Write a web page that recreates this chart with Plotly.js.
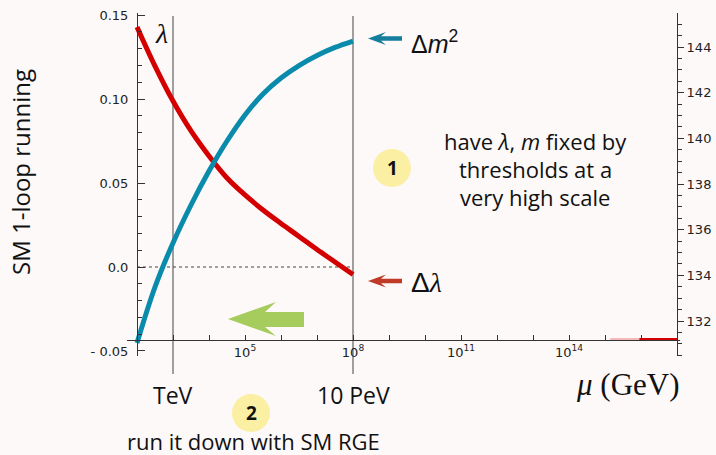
<!DOCTYPE html>
<html><head><meta charset="utf-8">
<script src="https://cdn.plot.ly/plotly-3.0.1.min.js"></script>
<style>html,body{margin:0;padding:0;background:#fdf9f8;}#chart{width:716px;height:455px;}</style>
</head><body><div id="chart"></div>
<script>
// ---- data ----
const muGrid     = [1e2, 316.2, 1e3, 3162, 1e4, 31620, 1e5, 316200, 1e6, 3.162e6, 1e7, 3.162e7, 1e8];
const lambdaVals = [0.1429, 0.1196, 0.0988, 0.0810, 0.0661, 0.0530, 0.0429, 0.0339, 0.0259, 0.0182, 0.0104, 0.0030, -0.0045];
const deltaM2Vals= [-0.0452, -0.0119, 0.0143, 0.0369, 0.0571, 0.0750, 0.0905, 0.1030, 0.1125, 0.1199, 0.1259, 0.1307, 0.1345];
const muTailFaint = [1.4e15, 9e15];
const muTailSolid = [9e15, 1e17];
const tailVals = [131.2, 131.2];
const zeroLineMu = [1e2, 1e8];
const zeroLineVals = [0, 0];
const thresholds = [1e3, 1e8];
const thresholdLabels = ['TeV', '10 PeV'];
const yTickVals = [0.15, 0.10, 0.05, 0.0, -0.05];
const yTickText = ['0.15', '0.10', '0.05', '0.0', '- 0.05'];
const yMinorVals = [-0.05,-0.04,-0.03,-0.02,-0.01,0,0.01,0.02,0.03,0.04,0.05,0.06,0.07,0.08,0.09,0.10,0.11,0.12,0.13,0.14,0.15];
const y2TickVals = [132, 134, 136, 138, 140, 142, 144];
const y2TickText = ['132', '134', '136', '138', '140', '142', '144'];
const y2MinorVals = [130.5,131,131.5,132,132.5,133,133.5,134,134.5,135,135.5,136,136.5,137,137.5,138,138.5,139,139.5,140,140.5,141,141.5,142,142.5,143,143.5,144,144.5,145];
const xTickVals = [1e2,1e3,1e4,1e5,1e6,1e7,1e8,1e9,1e10,1e11,1e12,1e13,1e14,1e15,1e16,1e17];
const xTickText = ['','','','10<sup>5</sup>','','','10<sup>8</sup>','','','10<sup>11</sup>','','','10<sup>14</sup>','','',''];

// ---- pixel -> paper helpers for decorations ----
const L = 127, R = 680, T = 13, B = 356;
const px = x => (x - L) / (R - L);
const py = y => (B - y) / (B - T);

const BG = '#fdf9f8';
const RED = '#d40000', BLUE = '#0a8bab';
const sans = '"Open Sans", sans-serif';
const serif = '"Liberation Serif", serif';

const traces = [
  {x: zeroLineMu, y: zeroLineVals, mode: 'lines', line: {color: '#444', width: 1, dash: 'dot'}, hoverinfo: 'skip'},
  {x: muGrid, y: lambdaVals, mode: 'lines', line: {color: RED, width: 5, shape: 'spline', smoothing: 1}},
  {x: muGrid, y: deltaM2Vals, mode: 'lines', line: {color: BLUE, width: 5, shape: 'spline', smoothing: 1}},
  {x: muTailFaint, y: tailVals, yaxis: 'y2', mode: 'lines', line: {color: '#f3b8b8', width: 2.5}},
  {x: muTailSolid, y: tailVals, yaxis: 'y2', mode: 'lines', line: {color: RED, width: 2.5}}
];

const shapes = [];
thresholds.forEach(t => shapes.push({type: 'line', xref: 'x', yref: 'paper', x0: t, x1: t,
  y0: py(374), y1: py(16), line: {color: '#444', width: 1}, layer: 'below'}));
// number circles
shapes.push({type: 'circle', xref: 'paper', yref: 'paper', x0: px(373), x1: px(411), y0: py(187), y1: py(149),
  fillcolor: '#fbefa4', line: {width: 0}});
shapes.push({type: 'circle', xref: 'paper', yref: 'paper', x0: px(232), x1: px(270), y0: py(432), y1: py(394),
  fillcolor: '#fbefa4', line: {width: 0}});
// arrows as paper paths
function pathOf(pts) { return 'M ' + pts.map(p => px(p[0]).toFixed(5) + ',' + py(p[1]).toFixed(5)).join(' L ') + ' Z'; }
shapes.push({type: 'path', xref: 'paper', yref: 'paper', fillcolor: '#a5cc5d', line: {width: 0},
  path: pathOf([[228,319],[276,302],[265,312],[304,312],[304,327],[265,327],[276,336]])});
function smallArrow(y, color) {
  return {type: 'path', xref: 'paper', yref: 'paper', fillcolor: color, line: {width: 0},
    path: pathOf([[368,y],[386,y-6.5],[381,y-2.3],[402,y-2.3],[402,y+2.3],[381,y+2.3],[386,y+6.5]])};
}
shapes.push(smallArrow(38.5, '#157e9c'));
shapes.push(smallArrow(281, '#c03a28'));

function ann(x, y, text, size, family, extra) {
  return Object.assign({xref: 'paper', yref: 'paper', x: px(x), y: py(y), text: text, showarrow: false,
    xanchor: 'center', yanchor: 'middle', font: {family: family || sans, size: size, color: '#111'}}, extra || {});
}
const annotations = [
  ann(20, 172, 'SM 1-loop running', 24, sans, {textangle: -90}),
  ann(161, 34, '<i>λ</i>', 28, serif),
  ann(409, 42, 'Δ<i>m</i><sup>2</sup>', 25, '"Liberation Sans", sans-serif', {xanchor: 'left'}),
  ann(409, 282, 'Δ<span style="font-family:Liberation Serif"><i>λ</i></span>', 28, '"Liberation Sans", sans-serif', {xanchor: 'left'}),
  ann(535, 141, 'have <i>λ</i>, <i>m</i> fixed by', 22),
  ann(535, 169, 'thresholds at a', 22),
  ann(535, 197, 'very high scale', 22),
  ann(392, 168, '<b>1</b>', 19),
  ann(251, 413, '<b>2</b>', 19),
  ann(628, 384, '<i>μ</i> (GeV)', 31, serif),
  ann(253, 441, 'run it down with SM RGE', 22)
];
thresholds.forEach((t, i) => annotations.push({xref: 'x', yref: 'paper', x: Math.log10(t), y: py(395),
  text: thresholdLabels[i], showarrow: false, xanchor: 'center', yanchor: 'middle',
  font: {family: sans, size: 23, color: '#111'}}));

const tickFont = {family: '"DejaVu Sans", sans-serif', size: 13, color: '#222'};
const layout = {
  width: 716, height: 455, autosize: false,
  margin: {l: L, r: 716 - R, t: T, b: 455 - B, pad: 0},
  paper_bgcolor: BG, plot_bgcolor: BG, showlegend: false,
  xaxis: {type: 'log', range: [1.722, 17.083], anchor: 'free', position: py(340),
    showline: true, linecolor: '#333', linewidth: 1, ticks: 'inside', ticklen: 5, tickcolor: '#333',
    tickmode: 'array', tickvals: xTickVals, ticktext: xTickText, tickfont: tickFont,
    showgrid: false, zeroline: false},
  yaxis: {range: [-0.05298, 0.15119], anchor: 'free', position: px(137),
    showline: true, linecolor: '#333', linewidth: 1, ticks: 'inside', ticklen: 7, tickcolor: '#333',
    tickmode: 'array', tickvals: yTickVals, ticktext: yTickText, tickfont: tickFont, ticklabelstandoff: 6,
    minor: {tickmode: 'array', tickvals: yMinorVals, ticks: 'inside', ticklen: 4, tickcolor: '#333', showgrid: false},
    showgrid: false, zeroline: false},
  yaxis2: {overlaying: 'y', side: 'right', range: [130.467, 145.489], anchor: 'free', position: px(677),
    showline: true, linecolor: '#333', linewidth: 1, ticks: 'outside', ticklen: 6, tickcolor: '#333',
    tickmode: 'array', tickvals: y2TickVals, ticktext: y2TickText, tickfont: tickFont,
    minor: {tickmode: 'array', tickvals: y2MinorVals, ticks: 'outside', ticklen: 4, tickcolor: '#333', showgrid: false},
    showgrid: false, zeroline: false},
  shapes: shapes,
  annotations: annotations
};
Plotly.newPlot('chart', traces, layout, {displayModeBar: false, staticPlot: true});
</script></body></html>
